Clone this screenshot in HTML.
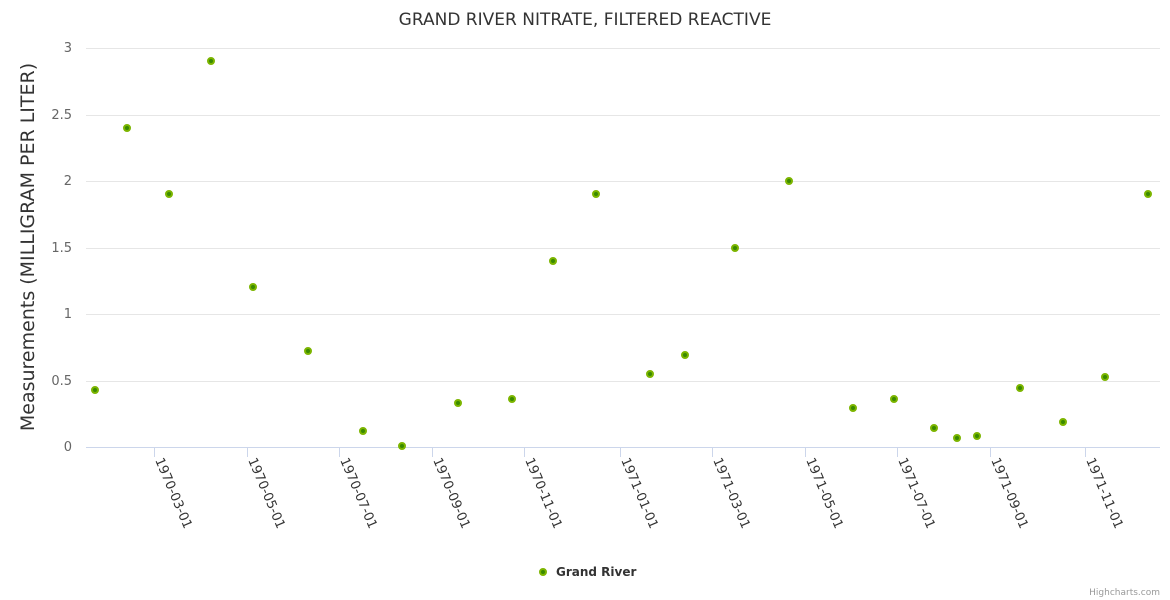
<!DOCTYPE html>
<html><head><meta charset="utf-8"><style>
body{margin:0;background:#fff}
svg{display:block;font-family:"DejaVu Sans","Liberation Sans",sans-serif}
</style></head><body>
<svg width="1170" height="600" xmlns="http://www.w3.org/2000/svg">
<rect width="1170" height="600" fill="#fff"/>
<text x="585" y="25" text-anchor="middle" font-size="17" fill="#333">GRAND RIVER NITRATE, FILTERED REACTIVE</text>
<g stroke="#e6e6e6" stroke-width="1">
<line x1="86" x2="1160" y1="48.5" y2="48.5"/>
<line x1="86" x2="1160" y1="115.5" y2="115.5"/>
<line x1="86" x2="1160" y1="181.5" y2="181.5"/>
<line x1="86" x2="1160" y1="248.5" y2="248.5"/>
<line x1="86" x2="1160" y1="314.5" y2="314.5"/>
<line x1="86" x2="1160" y1="381.5" y2="381.5"/>
</g>
<line x1="86" x2="1160" y1="447.5" y2="447.5" stroke="#ccd6eb"/>
<g font-size="13" fill="#666" text-anchor="end">
<text x="72" y="52">3</text><text x="72" y="119">2.5</text><text x="72" y="185">2</text>
<text x="72" y="252">1.5</text><text x="72" y="318">1</text><text x="72" y="385">0.5</text><text x="72" y="451">0</text>
</g>
<text transform="translate(34,247) rotate(-90)" text-anchor="middle" font-size="19" fill="#333">Measurements (MILLIGRAM PER LITER)</text>
<g stroke="#ccd6eb">
<line x1="154.5" x2="154.5" y1="447" y2="457"/><line x1="247.5" x2="247.5" y1="447" y2="457"/>
<line x1="339.5" x2="339.5" y1="447" y2="457"/><line x1="432.5" x2="432.5" y1="447" y2="457"/>
<line x1="524.5" x2="524.5" y1="447" y2="457"/><line x1="620.5" x2="620.5" y1="447" y2="457"/>
<line x1="712.5" x2="712.5" y1="447" y2="457"/><line x1="805.5" x2="805.5" y1="447" y2="457"/>
<line x1="897.5" x2="897.5" y1="447" y2="457"/><line x1="990.5" x2="990.5" y1="447" y2="457"/>
<line x1="1085.5" x2="1085.5" y1="447" y2="457"/>
</g>
<g font-size="13" fill="#333">
<text transform="translate(155,460) rotate(67)">1970-03-01</text>
<text transform="translate(248,460) rotate(67)">1970-05-01</text>
<text transform="translate(340,460) rotate(67)">1970-07-01</text>
<text transform="translate(433,460) rotate(67)">1970-09-01</text>
<text transform="translate(525,460) rotate(67)">1970-11-01</text>
<text transform="translate(621,460) rotate(67)">1971-01-01</text>
<text transform="translate(713,460) rotate(67)">1971-03-01</text>
<text transform="translate(806,460) rotate(67)">1971-05-01</text>
<text transform="translate(898,460) rotate(67)">1971-07-01</text>
<text transform="translate(991,460) rotate(67)">1971-09-01</text>
<text transform="translate(1086,460) rotate(67)">1971-11-01</text>
</g>
<g fill="#3a8a00" stroke="#7cb500" stroke-width="2">
<circle cx="95" cy="390" r="3"/><circle cx="127" cy="128" r="3"/><circle cx="169" cy="194" r="3"/>
<circle cx="211" cy="61" r="3"/><circle cx="253" cy="287" r="3"/><circle cx="308" cy="351" r="3"/>
<circle cx="363" cy="431" r="3"/><circle cx="402" cy="446" r="3"/><circle cx="458" cy="403" r="3"/>
<circle cx="512" cy="399" r="3"/><circle cx="553" cy="261" r="3"/><circle cx="596" cy="194" r="3"/>
<circle cx="650" cy="374" r="3"/><circle cx="685" cy="355" r="3"/><circle cx="735" cy="248" r="3"/>
<circle cx="789" cy="181" r="3"/><circle cx="853" cy="408" r="3"/><circle cx="894" cy="399" r="3"/>
<circle cx="934" cy="428" r="3"/><circle cx="957" cy="438" r="3"/><circle cx="977" cy="436" r="3"/>
<circle cx="1020" cy="388" r="3"/><circle cx="1063" cy="422" r="3"/><circle cx="1105" cy="377" r="3"/>
<circle cx="1148" cy="194" r="3"/>
<circle cx="543" cy="572" r="3"/>
</g>
<text x="556" y="576" font-size="12" font-weight="bold" fill="#333">Grand River</text>
<text x="1160" y="595" text-anchor="end" font-size="9" fill="#999">Highcharts.com</text>
</svg>
</body></html>
